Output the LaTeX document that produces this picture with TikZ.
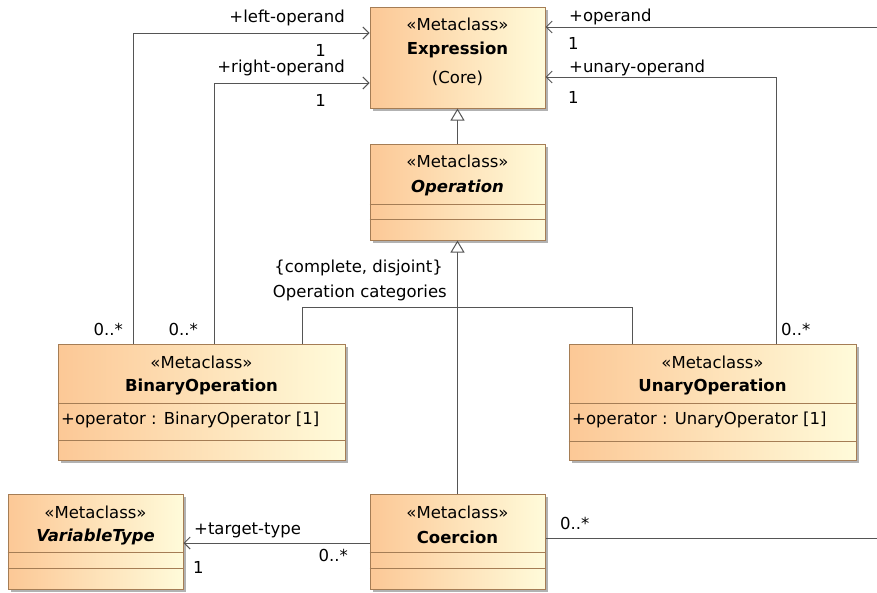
\documentclass[tikz,border=0pt]{standalone}
\usepackage{fontspec}
\setmainfont{DejaVu Sans}
\usetikzlibrary{arrows.meta,shadows}
\definecolor{clsA}{RGB}{252,200,150}
\definecolor{clsB}{RGB}{255,251,218}
\definecolor{bord}{RGB}{165,125,85}
\definecolor{ln}{RGB}{85,85,85}
\begin{document}
\begin{tikzpicture}[x=1pt,y=-1pt,
  every node/.style={font=\fontsize{16.5}{19}\selectfont, inner sep=0pt, text=black},
  box/.style={draw=bord, line width=1pt, left color=clsA, right color=clsB, rectangle,
    drop shadow={shadow xshift=3pt, shadow yshift=-3pt, fill=black!30, opacity=1}},
  sep/.style={draw=bord, line width=1pt},
  conn/.style={draw=ln, line width=1pt},
  assoc/.style={conn, -{Straight Barb[length=6pt,width=12pt,line width=1pt]}},
  gen/.style={conn, -{Triangle[open,fill=white,length=12pt,width=14pt,line width=1pt]}},
  st/.style={anchor=center},
  nm/.style={anchor=center, font=\fontsize{16.5}{19}\selectfont\bfseries},
  nmi/.style={anchor=center, font=\fontsize{16.5}{19}\selectfont\bfseries\itshape},
  lbl/.style={}
]
\useasboundingbox (0,0) rectangle (877,592);

% class boxes
\node[box, minimum width=175pt, minimum height=101pt] (expr) at (457.5,57.5) {};
\node[box, minimum width=175pt, minimum height=96pt] (op) at (457.5,192) {};
\node[box, minimum width=287pt, minimum height=116pt] (binop) at (201.5,402) {};
\node[box, minimum width=287pt, minimum height=116pt] (unop) at (712.5,402) {};
\node[box, minimum width=175pt, minimum height=95pt] (vt) at (95.5,541.5) {};
\node[box, minimum width=175pt, minimum height=95pt] (coer) at (457.5,541.5) {};

% compartments
\draw[sep] (op.west |- 0,204) -- (op.east |- 0,204);
\draw[sep] (op.west |- 0,219) -- (op.east |- 0,219);
\draw[sep] (binop.west |- 0,403) -- (binop.east |- 0,403);
\draw[sep] (binop.west |- 0,440) -- (binop.east |- 0,440);
\draw[sep] (unop.west |- 0,403) -- (unop.east |- 0,403);
\draw[sep] (unop.west |- 0,441) -- (unop.east |- 0,441);
\draw[sep] (vt.west |- 0,552) -- (vt.east |- 0,552);
\draw[sep] (vt.west |- 0,568) -- (vt.east |- 0,568);
\draw[sep] (coer.west |- 0,552) -- (coer.east |- 0,552);
\draw[sep] (coer.west |- 0,568) -- (coer.east |- 0,568);

% class texts
\node[st] (expr-s) at (457.5,24) {«Metaclass»};
\node[nm] (expr-n) at (457.5,50) {Expression};
\node[st] (expr-c) at (457.5,78) {(Core)};
\node[st] (op-s) at (457.5,161) {«Metaclass»};
\node[nmi] (op-n) at (457.5,188) {Operation};
\node[st] (binop-s) at (201.5,362) {«Metaclass»};
\node[nm] (binop-n) at (201.5,387) {BinaryOperation};
\node[anchor=west] (binop-a) at (61,420) {+operator : BinaryOperator [1]};
\node[st] (unop-s) at (712.5,362) {«Metaclass»};
\node[nm] (unop-n) at (712.5,387) {UnaryOperation};
\node[anchor=west] (unop-a) at (572,420) {+operator : UnaryOperator [1]};
\node[st] (vt-s) at (95.5,512) {«Metaclass»};
\node[nmi] (vt-n) at (95.5,537) {VariableType};
\node[st] (coer-s) at (457.5,512) {«Metaclass»};
\node[nm] (coer-n) at (457.5,537) {Coercion};

% generalizations
\draw[gen] (op.north) -- (expr.south);
\draw[gen] (coer.north) -- (op.south);
\draw[conn] (binop.north -| 302,0) -- (302,307) -- (632,307) -- (unop.north -| 632,0);
\node[anchor=east] (gs1) at (443,268) {\{complete, disjoint\}};
\node[anchor=east] (gs2) at (447,293) {Operation categories};

% associations to Expression
\draw[assoc] (binop.north -| 133,0) |- (expr.west |- 0,33);
\draw[assoc] (binop.north -| 214,0) |- (expr.west |- 0,83);
\coordinate (rightop) at (877,27);
\draw[assoc] (rightop) -- (expr.east |- rightop);
\draw[assoc] (unop.north -| 776,0) |- (expr.east |- 0,77);

\node[anchor=east] (l1) at (345,18) {+left-operand};
\node[anchor=east] (l1m) at (326,50) {1};
\node[anchor=east] (l2) at (345,68) {+right-operand};
\node[anchor=east] (l2m) at (326,100) {1};
\node[anchor=east] (l1s) at (123,329) {0..*};
\node[anchor=east] (l2s) at (198,329) {0..*};
\node[anchor=west] (r1) at (569,17) {+operand};
\node[anchor=west] (r1m) at (568,43) {1};
\node[anchor=west] (r2) at (569,68) {+unary-operand};
\node[anchor=west] (r2m) at (568,97) {1};
\node[anchor=west] (r2s) at (781,329) {0..*};

% coercion associations
\draw[assoc] (coer.west |- 0,543) -- (vt.east |- 0,543);
\node[anchor=west] (tt) at (194,530) {+target-type};
\node[anchor=west] (ttm) at (193,567) {1};
\node[anchor=east] (tts) at (348,555) {0..*};
\coordinate (coerend) at (877,538);
\draw[conn] (coer.east |- coerend) -- (coerend);
\node[anchor=west] (cs) at (560,523) {0..*};
\end{tikzpicture}
\end{document}
